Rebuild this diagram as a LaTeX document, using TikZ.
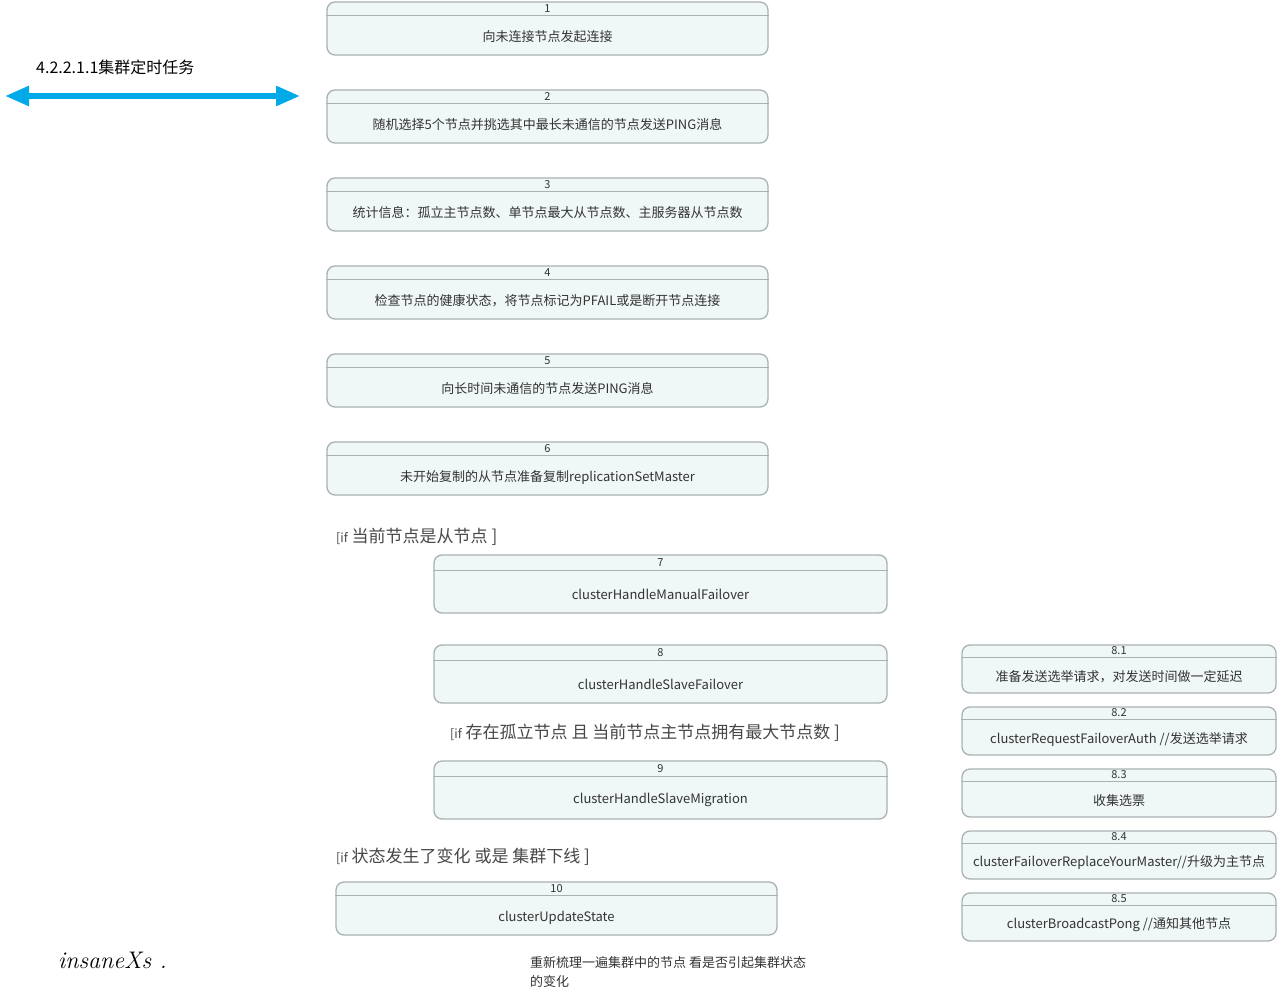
\documentclass[tikz,border=0pt]{standalone}
\usepackage{fontspec}
\usepackage{tikz}
\usetikzlibrary{arrows.meta}
\newfontfamily\cjk{Noto Sans CJK SC}
\definecolor{boxline}{HTML}{A9B1B4}
\definecolor{boxfill}{HTML}{F0F7F7}
\definecolor{boxtext}{HTML}{333333}
\definecolor{arrowblue}{HTML}{00AAE8}
\tikzset{
  task/.style={draw=boxline, fill=boxfill, line width=1.3pt, rounded corners=8pt, inner sep=0pt},
  sep/.style={draw=boxline, line width=1.1pt},
  num/.style={text=boxtext, font=\cjk\fontsize{11}{13}\selectfont, inner sep=0pt},
  txt/.style={text=boxtext, font=\cjk\fontsize{13}{15}\selectfont, inner sep=0pt},
  guard/.style={text=boxtext!90, font=\cjk\fontsize{17}{20}\selectfont, inner sep=0pt, anchor=west},
}
\newcommand\ifword{{\fontsize{12.5}{14}\selectfont[if}}

\begin{document}
\begin{tikzpicture}[x=1pt,y=-1pt]
         \useasboundingbox (0,0) rectangle (1277,990);
         % title and arrow
         \node[font=\cjk\fontsize{16}{18}\selectfont, anchor=west, inner sep=0pt] (title) at (36,67.5) {4.2.2.1.1集群定时任务};
         \coordinate (arrL) at (5,96);
         \coordinate (arrR) at (300,96);
         \draw[arrowblue, line width=5.5pt, {Triangle[length=24pt,width=19pt]}-{Triangle[length=24pt,width=19pt]}] (arrL) -- (arrR);
         % main steps
         \foreach \i/\txt in {1/向未连接节点发起连接, 2/随机选择5个节点并挑选其中最长未通信的节点发送PING消息, 3/统计信息：孤立主节点数、单节点最大从节点数、主服务器从节点数, 4/检查节点的健康状态，将节点标记为PFAIL或是断开节点连接, 5/向长时间未通信的节点发送PING消息, 6/未开始复制的从节点准备复制replicationSetMaster} {
            \node[task, minimum width=441pt, minimum height=53pt] (t\i) at (547.5,{28.5+88*(\i-1)}) {};
            \draw[sep] ([yshift=-14pt]t\i.north west) -- ([yshift=-14pt]t\i.north east);
            \node[num] (n\i) at ([yshift=-7pt]t\i.north) {\i};
            \node[txt] (x\i) at ([yshift=-8.5pt]t\i.center) {\txt};
         }
         % slave branch
         \node[guard] (g7) at (336,536.5) {\ifword{} 当前节点是从节点 ]};
         \foreach \i/\y/\txt in {7/584/clusterHandleManualFailover, 8/674/clusterHandleSlaveFailover, 9/790/clusterHandleSlaveMigration} {
            \node[task, minimum width=453pt, minimum height=58pt] (t\i) at (660.5,\y) {};
            \draw[sep] ([yshift=-16pt]t\i.north west) -- ([yshift=-16pt]t\i.north east);
            \node[num] (n\i) at ([yshift=-8pt]t\i.north) {\i};
            \node[txt] (x\i) at ([yshift=-10pt]t\i.center) {\txt};
         }
         \node[guard] (g9) at (450,732.5) {\ifword{} 存在孤立节点 且 当前节点主节点拥有最大节点数 ]};
         % failover sub steps
         \foreach \j/\y/\txt in {1/669/准备发送选举请求，对发送时间做一定延迟, 2/731/{clusterRequestFailoverAuth //发送选举请求}, 3/793/收集选票, 4/855/{clusterFailoverReplaceYourMaster//升级为主节点}, 5/917/{clusterBroadcastPong //通知其他节点}} {
            \node[task, minimum width=314pt, minimum height=48pt] (s\j) at (1119,\y) {};
            \draw[sep] ([yshift=-13pt]s\j.north west) -- ([yshift=-13pt]s\j.north east);
            \node[num] (m\j) at ([yshift=-6.5pt]s\j.north) {8.\j};
            \node[txt] (y\j) at ([yshift=-8pt]s\j.center) {\txt};
         }
         % update state
         \node[guard] (g10) at (336,856.5) {\ifword{} 状态发生了变化 或是 集群下线 ]};
         \node[task, minimum width=441pt, minimum height=53pt] (t10) at (556.5,908.5) {};
         \draw[sep] ([yshift=-14pt]t10.north west) -- ([yshift=-14pt]t10.north east);
         \node[num] (n10) at ([yshift=-7pt]t10.north) {10};
         \node[txt] (x10) at ([yshift=-9pt]t10.center) {clusterUpdateState};
         \node[txt, anchor=north west, align=left, font=\cjk\fontsize{13}{19}\selectfont] (note) at (530,956) {重新梳理一遍集群中的节点 看是否引起集群状态\\的变化};
         % signature
         \node[font=\itshape\fontsize{24}{26}\selectfont, anchor=west, inner sep=0pt] (sign) at (58,960) {insaneXs .};
      \end{tikzpicture}
\end{document}
